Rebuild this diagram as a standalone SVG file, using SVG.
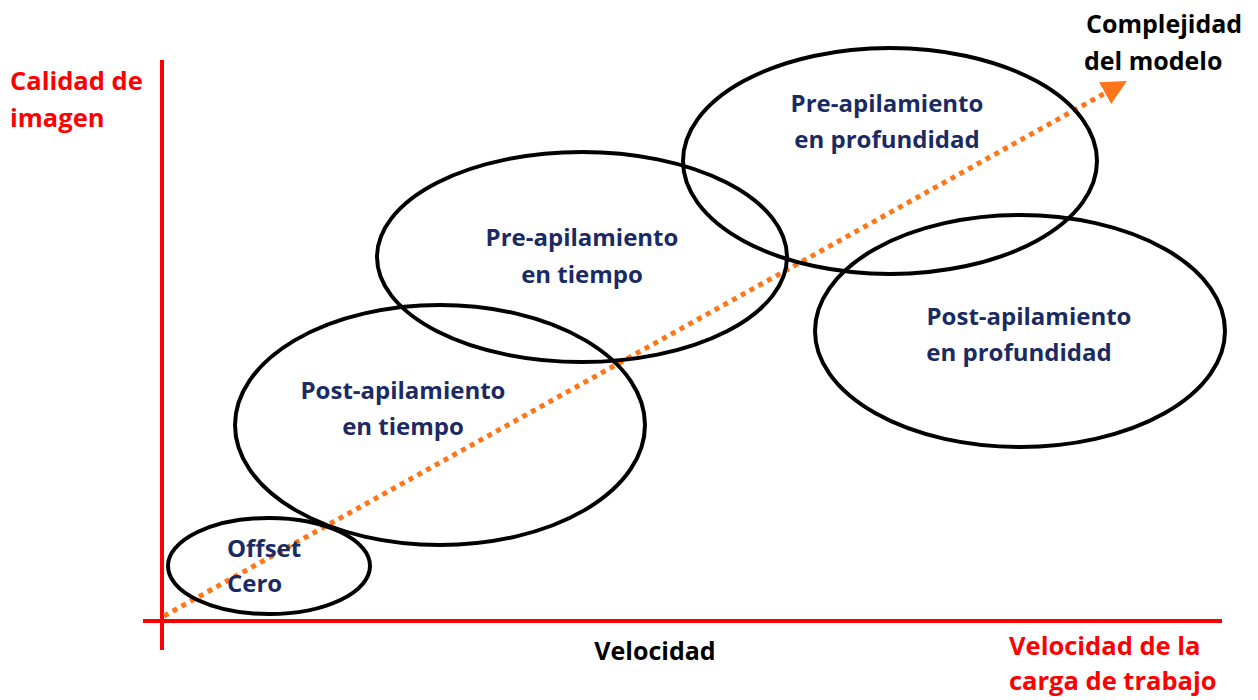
<svg xmlns="http://www.w3.org/2000/svg" width="1258" height="700" viewBox="0 0 1258 700">
<style>
.axis{stroke:#ff0000;stroke-width:4;fill:none}
.ell{fill:none;stroke:#000;stroke-width:4}
.t{font-family:"Open Sans","Liberation Sans",sans-serif;font-weight:bold;font-size:24px;fill:#1a2a63;text-anchor:middle}
.red{font-family:"Open Sans","Liberation Sans",sans-serif;font-weight:bold;font-size:25.5px;fill:#ff0000}
.blk{font-family:"Open Sans","Liberation Sans",sans-serif;font-weight:bold;font-size:25px;fill:#000}
</style>
<defs>
<marker id="ah" markerWidth="5" markerHeight="5" refX="2.5" refY="2.5" orient="auto" markerUnits="strokeWidth">
<path d="M0,0 L5,2.5 L0,5 Z" fill="#ff7518"/>
</marker>
</defs>
<g id="axes">
<line class="axis" x1="162" y1="60" x2="162" y2="650"/>
<line class="axis" x1="143" y1="621" x2="1222" y2="621"/>
</g>
<g id="connectors">
<line x1="164" y1="616" x2="1116" y2="87" stroke="#ff7518" stroke-width="5" stroke-dasharray="5,5" marker-end="url(#ah)"/>
</g>
<g id="offset">
<ellipse class="ell" cx="269" cy="566" rx="101" ry="48"/>
<text x="227" y="557" class="t" style="text-anchor:start">Offset</text>
<text x="227" y="592" class="t" style="text-anchor:start">Cero</text>
</g>
<g id="post-tiempo">
<ellipse class="ell" cx="440" cy="425" rx="205" ry="120"/>
<text x="403" y="399" class="t">Post-apilamiento</text>
<text x="403" y="435" class="t">en tiempo</text>
</g>
<g id="pre-tiempo">
<ellipse class="ell" cx="582" cy="257" rx="205" ry="105"/>
<text x="582" y="246" class="t">Pre-apilamiento</text>
<text x="582" y="283" class="t">en tiempo</text>
</g>
<g id="pre-prof">
<ellipse class="ell" cx="890" cy="161" rx="207" ry="113"/>
<text x="887" y="112" class="t">Pre-apilamiento</text>
<text x="887" y="148" class="t">en profundidad</text>
</g>
<g id="post-prof">
<ellipse class="ell" cx="1020" cy="331" rx="205" ry="116"/>
<text x="1029" y="325" class="t">Post-apilamiento</text>
<text x="1019" y="361" class="t">en profundidad</text>
</g>
<g id="labels">
<text x="10" y="90" class="red">Calidad de</text>
<text x="10" y="127" class="red">imagen</text>
<text x="1086" y="33" class="blk">Complejidad</text>
<text x="1084" y="70" class="blk">del modelo</text>
<text x="655" y="660" class="blk" style="text-anchor:middle">Velocidad</text>
<text x="1009" y="655" class="red">Velocidad de la</text>
<text x="1009" y="690" class="red">carga de trabajo</text>
</g>
</svg>
